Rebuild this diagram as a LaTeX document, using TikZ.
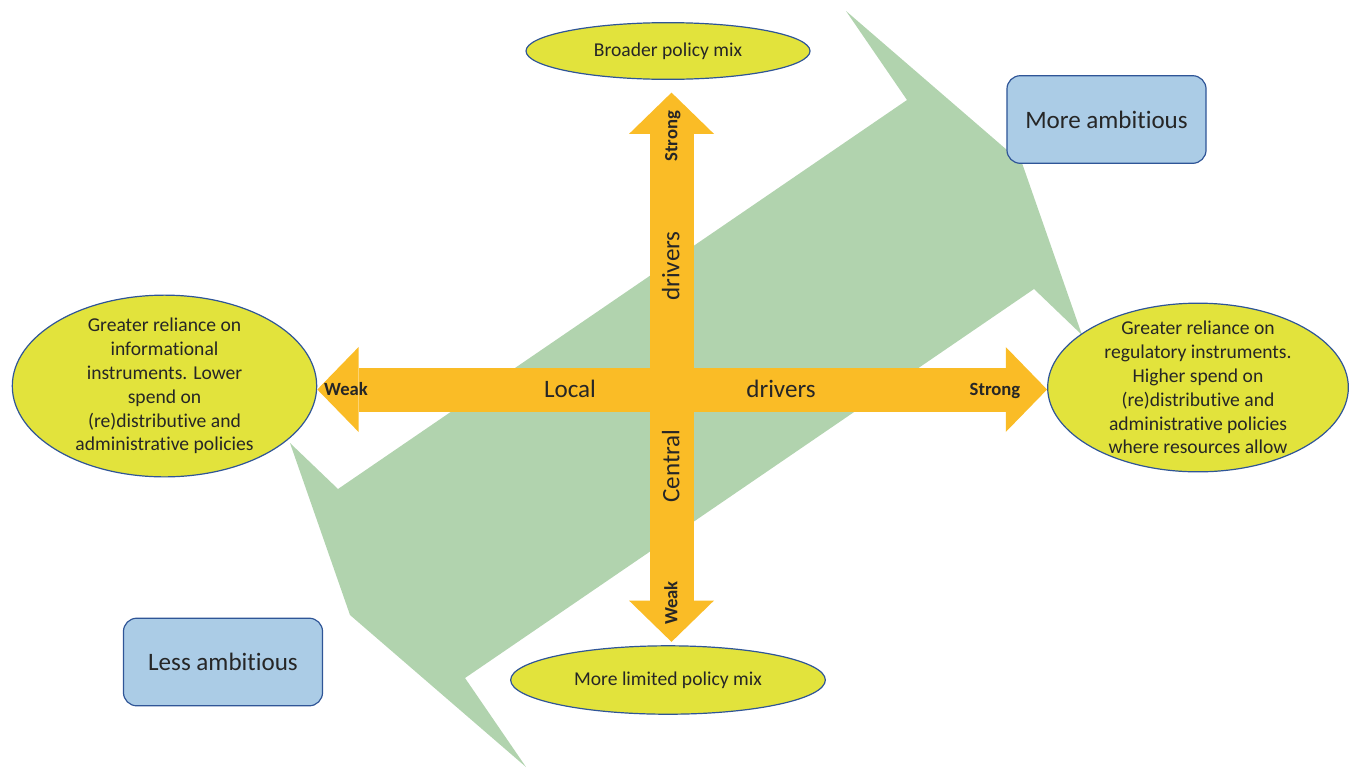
\documentclass[tikz,border=0pt]{standalone}
\usepackage{fontspec}
\setmainfont{Carlito}[Ligatures=NoCommon]
\usetikzlibrary{shapes.geometric,arrows.meta}

\definecolor{leafgreen}{RGB}{177,211,174}
\definecolor{amber}{RGB}{250,188,38}
\definecolor{lime}{RGB}{226,227,60}
\definecolor{navy}{RGB}{47,85,151}
\definecolor{skyblue}{RGB}{171,204,230}
\definecolor{ink}{RGB}{38,38,38}

\tikzset{
	mixell/.style={ellipse, draw=navy, fill=lime, line width=0.9pt, inner sep=0pt, text=ink,
		font=\fontsize{14.7}{17.9}\selectfont},
	mixtext/.style={align=center, text=ink, font=\fontsize{14.7}{17.9}\selectfont},
	ambbox/.style={rectangle, rounded corners=10pt, draw=navy, fill=skyblue, line width=0.9pt,
		minimum width=149.3pt, minimum height=65.7pt, text=ink, font=\fontsize{18.8}{22}\selectfont},
	axis/.style={draw=amber, line width=33pt,
		{Triangle[width=63.75pt, length=31pt, line width=0pt, fill=amber]}-{Triangle[width=63.75pt, length=31pt, line width=0pt, fill=amber]}},
	biglab/.style={text=ink, font=\fontsize{18.8}{22}\selectfont, text height=12pt, text depth=1pt, inner sep=0pt},
	endlab/.style={text=ink, font=\fontsize{14}{17}\selectfont\bfseries, text height=9pt, text depth=1pt, inner sep=0pt}
}

\begin{document}
\begin{tikzpicture}[x=0.75pt,y=-0.75pt]
	\useasboundingbox (0,0) rectangle (1351,768);

	\fill[leafgreen] (846,11) -- (1022,163) -- (1082,335) -- (1034,289) -- (465,678) -- (526,767)
		-- (350,615) -- (290,443) -- (338,489) -- (907,100) -- cycle;

	\node[mixell, minimum width=213pt, minimum height=42.5pt] (broad) at (668,51) {Broader policy mix};
	\node[mixell, minimum width=236pt, minimum height=51.3pt] (limited) at (668,680) {More limited policy mix};
	\node[mixell, minimum width=228.3pt, minimum height=136.3pt] (inform) at (164.5,386) {};
	\node[mixell, minimum width=225.5pt, minimum height=126.5pt] (regul) at (1198,387.5) {};
		\node[mixtext] (informtxt) at (inform.center) {Greater reliance on\\informational\\instruments. Lower\\spend on\\(re)distributive and\\administrative policies};
		\node[mixtext] (regultxt) at (regul.center) {Greater reliance on\\regulatory instruments.\\Higher spend on\\(re)distributive and\\administrative policies\\where resources allow};

	\node[ambbox] (more) at (1106.5,119.5) {More ambitious};
	\node[ambbox] (less) at (223,662) {Less ambitious};

	\coordinate (cross) at (671.5,389.5);
	\draw[axis] (inform.east |- cross) -- (regul.west |- cross);
	\draw[axis, shorten <=2.5pt, shorten >=9.5pt] (limited.north -| cross) -- (broad.south -| cross);

	\node[endlab] (localweak) at (346,390) {Weak};
	\node[biglab] (local) at (570,390) {Local};
	\node[biglab] (localdrv) at (781,390) {drivers};
	\node[endlab] (localstrong) at (995,390) {Strong};

	\node[endlab, rotate=90] (centstrong) at (672,136) {Strong};
	\node[biglab, rotate=90] (centdrv) at (672,266) {drivers};
	\node[biglab, rotate=90] (central) at (672,466) {Central};
	\node[endlab, rotate=90] (centweak) at (672,603) {Weak};

\end{tikzpicture}
\end{document}
